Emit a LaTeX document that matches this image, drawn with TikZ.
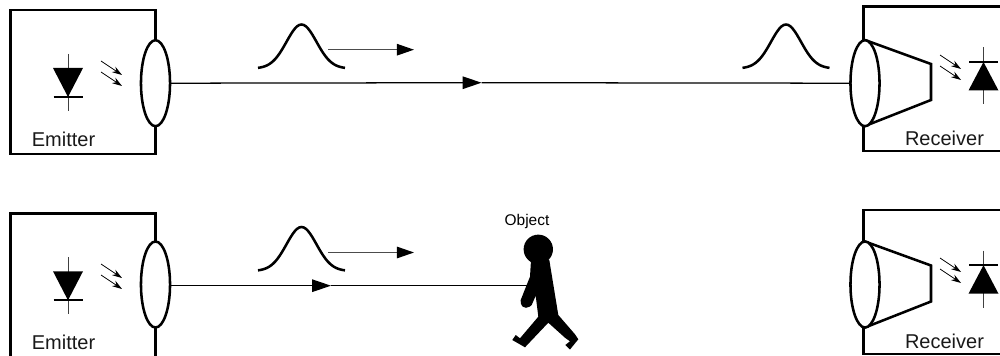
\documentclass[tikz,border=0pt]{standalone}
\usepackage{fontspec}
\setmainfont{Liberation Sans}
\usetikzlibrary{arrows.meta,shapes.geometric}
\tikzset{
  x=0.75pt,y=-0.75pt,
  heavy/.style={line width=1.9pt,line join=miter},
  lens/.style={ellipse,draw,fill=white,line width=1.9pt,minimum width=21.8pt,minimum height=64.5pt,inner sep=0pt,outer sep=0pt},
  fibre/.style={line width=0.95pt,black},
  bigtip/.style={-{Triangle[length=14.2pt,width=9.4pt]}},
  fibretip/.style={fibre,bigtip},
  flowtip/.style={line width=0.95pt,black!70,-{Triangle[length=12.8pt,width=8.6pt,color=black]}},
  ray/.style={line width=0.6pt,-{Stealth[length=7.5pt,width=4.8pt]}},
  caption/.style={anchor=base,font=\fontsize{15pt}{18pt}\selectfont,text=black!90,inner sep=0pt},
  objcaption/.style={anchor=base,font=\fontsize{11.6pt}{14pt}\selectfont,inner sep=0pt},
  bell/.pic={\draw[line width=1.9pt] plot[smooth,domain=-43.5:43.5,samples=41] (\x,{-44*exp(-(\x*\x)/450)});},
  rays/.pic={
    \draw[ray] (0,0) -- (21,14);
    \draw[ray] (0,11) -- (21,25);},
  downdiode/.pic={
    \draw[line width=0.7pt,black!75] (0,0) -- (0,57);
    \fill (-15,14) -- (15,14) -- (0,43) -- cycle;
    \draw[line width=1.7pt] (-14.5,43) -- (14.5,43);},
  updiode/.pic={
    \draw[line width=0.7pt,black!75] (0,0) -- (0,57);
    \fill (-15,43) -- (15,43) -- (0,14.5) -- cycle;
    \draw[line width=1.7pt] (-14.5,14.5) -- (14.5,14.5);},
  horn/.pic={\draw[heavy] (0,-43) -- (66,-19) -- (66,17) -- (0,43);},
}
\begin{document}
\begin{tikzpicture}
\useasboundingbox (0,0) rectangle (1000,356);
\clip (0,0) rectangle (1000,356);
% ---- upper row
\draw[heavy] (155.5,83) -- (155.5,10) -- (10.5,10) -- (10.5,154) -- (155.5,154) -- cycle;
\draw[heavy] (1010,6.7) -- (863.5,6.7) -- (863.5,151) -- (1010,151);
\pic at (865,83) {horn};
\node[lens] (em1) at (155.5,83.2) {};
\node[lens] (re1) at (865,83.2) {};
\coordinate (mid1) at (481.5,82.7);
\draw[fibretip] (em1.east) -- (mid1);
\draw[fibre] (mid1) -- (re1.west);
\pic at (68,54) {downdiode};
\pic at (983.5,47.5) {updiode};
\pic at (101,61) {rays};
\pic at (940,55) {rays};
\pic at (301.5,68.5) {bell};
\pic at (786,68.5) {bell};
\coordinate (fa1) at (328,49.7);
\coordinate (fb1) at (414,49.7);
\draw[flowtip] (fa1) -- (fb1);
\node[caption] (emt1) at (63.5,146.7) {Emitter};
\node[caption] (ret1) at (944.5,145.7) {Receiver};
% ---- lower row
\draw[heavy] (155.5,284.5) -- (155.5,213.3) -- (10.5,213.3) -- (10.5,360);
\draw[heavy] (155.5,284.5) -- (155.5,360);
\draw[heavy] (1010,210) -- (863.5,210) -- (863.5,354) -- (1010,354);
\pic at (865,284.5) {horn};
\node[lens] (em2) at (155.5,284.5) {};
\node[lens] (re2) at (865,284.5) {};
\coordinate (mid2) at (331,285.7);
\coordinate (hit) at (528,285.7);
\draw[fibretip] (em2.east |- mid2) -- (mid2);
\draw[fibre] (mid2) -- (hit);
\pic at (68,257.3) {downdiode};
\pic at (983.5,250.7) {updiode};
\pic at (101,264) {rays};
\pic at (940,258) {rays};
\pic at (301.5,271) {bell};
\coordinate (fa2) at (328,252.5);
\coordinate (fb2) at (414,252.5);
\draw[flowtip] (fa2) -- (fb2);
\node[caption] (emt2) at (63.5,349) {Emitter};
\node[caption] (ret2) at (944.5,348.3) {Receiver};
% ---- object
\node[objcaption] (objt) at (527,225.7) {Object};
\fill (538.3,249.3) circle (11pt);
\fill (531,260) -- (530,276.7) -- (520.7,300) -- (520.8,303) .. controls (521.5,306.5) and (524,308) .. (526,307.8) .. controls (529,307.5) and (531,306) .. (531.7,305) -- (535.7,295.7) -- (538.3,316.7) -- (520,338.3) -- (515.7,335) -- (512.3,340) -- (525,347.3) -- (548.3,322.7) -- (565.3,338) -- (570,341.3) -- (565.3,345) -- (570,349.5) -- (578.3,339.3) -- (575,334.3) -- (558.3,315) -- (549.3,260) -- cycle;
\end{tikzpicture}
\end{document}
